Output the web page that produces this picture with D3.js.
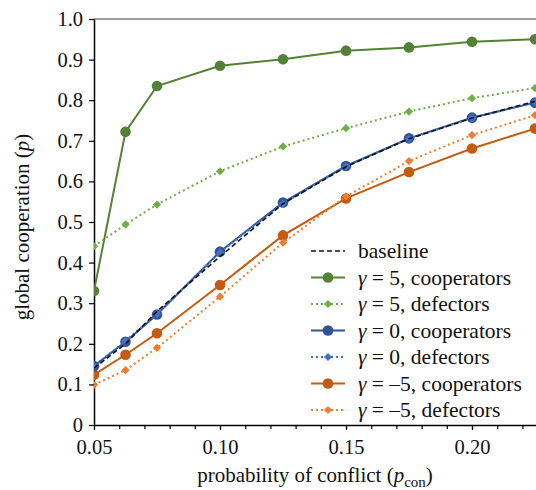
<!DOCTYPE html>
<html>
<head>
<meta charset="utf-8">
<script src="https://cdn.jsdelivr.net/npm/d3@7/dist/d3.min.js"></script>
<style>
  body { margin: 0; background: #fff; }
</style>
</head>
<body>
<div id="chart"></div>
<script>
// probability of conflict
var pcon = [0.05, 0.0625, 0.075, 0.1, 0.125, 0.15, 0.175, 0.2, 0.225];

var baseline  = [0.140, 0.200, 0.280, 0.415, 0.545, 0.636, 0.705, 0.756, 0.797];
var g5Coop    = [0.330, 0.722, 0.835, 0.885, 0.901, 0.922, 0.930, 0.944, 0.950];
var g5Def     = [0.440, 0.494, 0.543, 0.625, 0.686, 0.731, 0.772, 0.805, 0.830];
var g0Coop    = [0.145, 0.205, 0.272, 0.427, 0.548, 0.638, 0.706, 0.757, 0.794];
var g0Def     = [0.145, 0.207, 0.274, 0.425, 0.545, 0.637, 0.705, 0.756, 0.795];
var gm5Coop   = [0.124, 0.173, 0.226, 0.345, 0.467, 0.558, 0.623, 0.681, 0.730];
var gm5Def    = [0.099, 0.135, 0.190, 0.316, 0.449, 0.563, 0.650, 0.714, 0.763];

var xTicks = [0.05, 0.10, 0.15, 0.20];
var yTicks = [0, 0.1, 0.2, 0.3, 0.4, 0.5, 0.6, 0.7, 0.8, 0.9, 1.0];

var series = [
  {name: "baseline", gamma: null, vals: baseline, color: "#111", dash: "5,3", marker: null},
  {name: "cooperators", gamma: "5", vals: g5Coop, color: "#548235", dash: null, marker: "circle"},
  {name: "defectors", gamma: "5", vals: g5Def, color: "#70ad47", dash: "2,3", marker: "diamond"},
  {name: "cooperators", gamma: "0", vals: g0Coop, color: "#2f5597", dash: null, marker: "circle"},
  {name: "defectors", gamma: "0", vals: g0Def, color: "#4472c4", dash: "2,3", marker: "diamond"},
  {name: "cooperators", gamma: "–5", vals: gm5Coop, color: "#c55a11", dash: null, marker: "circle"},
  {name: "defectors", gamma: "–5", vals: gm5Def, color: "#ed7d31", dash: "2,3", marker: "diamond"}
];

var FONT = "Liberation Serif";
var W = 536, H = 490;
var mLeft = 94, mTop = 19, mBottom = 425;

var svg = d3.select("#chart").append("svg")
    .attr("width", W).attr("height", H)
    .attr("font-family", FONT);

var x = d3.scaleLinear().domain([0.05, 0.2254]).range([mLeft, W]);
var y = d3.scaleLinear().domain([0, 1]).range([mBottom, mTop]);

svg.append("defs").append("clipPath").attr("id", "plot")
  .append("rect").attr("x", mLeft).attr("y", mTop - 10).attr("width", W - mLeft).attr("height", mBottom - mTop + 20);

// top spine (gray)
svg.append("line")
    .attr("x1", mLeft).attr("x2", W).attr("y1", mTop).attr("y2", mTop)
    .attr("stroke", "#7f7f7f").attr("stroke-width", 1.5);

// minor x ticks
svg.append("g")
    .attr("transform", "translate(0," + mBottom + ")")
    .call(d3.axisBottom(x).tickValues(d3.range(0.06, 0.226, 0.01)).tickSize(4).tickFormat(""))
    .call(g => g.select(".domain").remove())
    .call(g => g.selectAll("line").attr("stroke-width", 1.2));

// x axis
svg.append("g")
    .attr("transform", "translate(0," + mBottom + ")")
    .call(d3.axisBottom(x).tickValues(xTicks).tickSize(5).tickSizeOuter(0).tickPadding(9).tickFormat(d3.format(".2f")))
    .attr("font-family", FONT).attr("font-size", 20.5)
    .call(g => g.select(".domain").attr("stroke-width", 1.5))
    .call(g => g.selectAll("line").attr("stroke-width", 1.2))
    .call(g => g.selectAll("text").attr("fill", "#111"));

// y axis
svg.append("g")
    .attr("transform", "translate(" + mLeft + ",0)")
    .call(d3.axisLeft(y).tickValues(yTicks).tickSize(5).tickSizeOuter(0).tickPadding(6)
      .tickFormat(d => d === 0 ? "0" : d3.format(".1f")(d)))
    .attr("font-family", FONT).attr("font-size", 20.5)
    .call(g => g.select(".domain").attr("stroke-width", 1.5))
    .call(g => g.selectAll("line").attr("stroke-width", 1.2))
    .call(g => g.selectAll("text").attr("fill", "#111"));

// axis labels
var xl = svg.append("text")
    .attr("x", 315).attr("y", 482)
    .attr("text-anchor", "middle")
    .attr("font-size", 21).attr("fill", "#111");
xl.append("tspan").text("probability of conflict (");
xl.append("tspan").attr("font-style", "italic").text("p");
xl.append("tspan").attr("dy", 5).attr("font-size", 15).text("con");
xl.append("tspan").attr("dy", -5).text(")");

var yl = svg.append("text")
    .attr("transform", "translate(29,227) rotate(-90)")
    .attr("text-anchor", "middle")
    .attr("font-size", 21).attr("fill", "#111");
yl.append("tspan").text("global cooperation (");
yl.append("tspan").attr("font-style", "italic").text("p");
yl.append("tspan").text(")");

var line = d3.line().x((d, i) => x(pcon[i])).y(d => y(d));
var diamond = d3.symbol().type(d3.symbolSquare).size(34);

var plot = svg.append("g").attr("clip-path", "url(#plot)");

// draw in order so baseline sits on top of blue lines
var drawOrder = [1, 2, 5, 6, 3, 4, 0];
drawOrder.forEach(function(k) {
  var s = series[k];
  var g = plot.append("g");
  g.append("path")
    .datum(s.vals)
    .attr("d", line)
    .attr("fill", "none")
    .attr("stroke", s.color)
    .attr("stroke-width", s.marker ? 2 : 1.6)
    .attr("stroke-dasharray", s.dash);
  if (s.marker === "circle") {
    g.selectAll("circle").data(s.vals).join("circle")
      .attr("cx", (d, i) => x(pcon[i])).attr("cy", d => y(d))
      .attr("r", 5.3).attr("fill", s.color);
  } else if (s.marker === "diamond") {
    g.selectAll("path.m").data(s.vals).join("path")
      .attr("class", "m")
      .attr("transform", (d, i) => "translate(" + x(pcon[i]) + "," + y(d) + ") rotate(45)")
      .attr("d", diamond)
      .attr("fill", s.color);
  }
});

// legend
var lx0 = 311, lx1 = 345, ly0 = 251, ldy = 26.5;
var leg = svg.append("g");
series.forEach(function(s, i) {
  var yy = ly0 + i * ldy;
  leg.append("line")
    .attr("x1", lx0).attr("x2", lx1).attr("y1", yy).attr("y2", yy)
    .attr("stroke", s.color)
    .attr("stroke-width", s.marker ? 2 : 1.6)
    .attr("stroke-dasharray", s.dash);
  var mx = (lx0 + lx1) / 2;
  if (s.marker === "circle") {
    leg.append("circle").attr("cx", mx).attr("cy", yy).attr("r", 5.3).attr("fill", s.color);
  } else if (s.marker === "diamond") {
    leg.append("path")
      .attr("transform", "translate(" + mx + "," + yy + ") rotate(45)")
      .attr("d", diamond)
      .attr("fill", s.color);
  }
  var t = leg.append("text").attr("x", 358).attr("y", yy + 7)
    .attr("font-size", 21.5).attr("fill", "#111");
  if (s.gamma === null) {
    t.text(s.name);
  } else {
    t.append("tspan").attr("font-style", "italic").text("γ");
    t.append("tspan").text(" = " + s.gamma + ", " + s.name);
  }
});
</script>
</body>
</html>
